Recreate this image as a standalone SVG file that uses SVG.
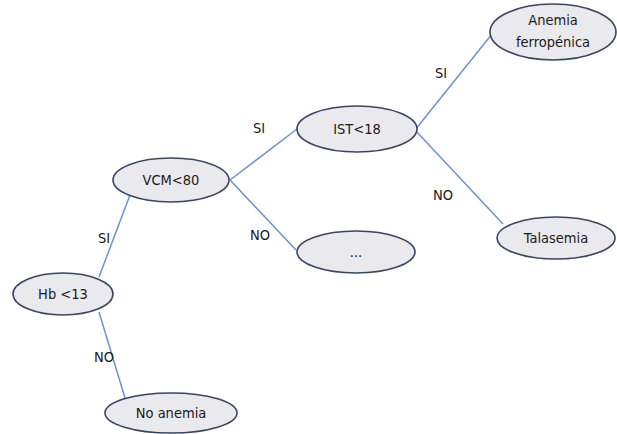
<svg xmlns="http://www.w3.org/2000/svg" width="617" height="434" viewBox="0 0 617 434">
  <style>
    .node ellipse { fill: #e9e9ee; stroke: #3b4560; stroke-width: 1.6; }
    .node text, .lbl { font-family: "DejaVu Sans Condensed", "Liberation Sans", sans-serif; font-stretch: condensed; font-size: 14.5px; fill: #1a1a1a; text-anchor: middle; }
    .edge { stroke: #7091cf; stroke-width: 1.5; fill: none; }
  </style>
  <rect width="617" height="434" fill="#ffffff"/>
  <g id="connectors">
    <line class="edge" x1="130" y1="195" x2="99" y2="277"/>
    <line class="edge" x1="99" y1="312" x2="125" y2="398"/>
    <line class="edge" x1="230" y1="180" x2="297" y2="129"/>
    <line class="edge" x1="230" y1="180" x2="296" y2="250"/>
    <line class="edge" x1="415" y1="130" x2="492" y2="34"/>
    <line class="edge" x1="415" y1="130" x2="503" y2="224"/>
    <text class="lbl" x="104" y="243">SI</text>
    <text class="lbl" x="104" y="362">NO</text>
    <text class="lbl" x="259" y="133">SI</text>
    <text class="lbl" x="260" y="240">NO</text>
    <text class="lbl" x="441" y="78">SI</text>
    <text class="lbl" x="443" y="200">NO</text>
  </g>
  <g id="hb" class="node">
    <ellipse cx="63" cy="294" rx="50" ry="21"/>
    <text x="63" y="299">Hb &lt;13</text>
  </g>
  <g id="noanemia" class="node">
    <ellipse cx="171" cy="413" rx="66" ry="20"/>
    <text x="171" y="418">No anemia</text>
  </g>
  <g id="vcm" class="node">
    <ellipse cx="171" cy="180" rx="58" ry="22"/>
    <text x="171" y="185">VCM&lt;80</text>
  </g>
  <g id="ist" class="node">
    <ellipse cx="357" cy="129" rx="60" ry="23"/>
    <text x="357" y="134">IST&lt;18</text>
  </g>
  <g id="other" class="node">
    <ellipse cx="356" cy="252" rx="59" ry="21"/>
    <text x="356" y="257">...</text>
  </g>
  <g id="ferropenica" class="node">
    <ellipse cx="553" cy="32" rx="63" ry="28"/>
    <text x="553" y="25">Anemia</text>
    <text x="553" y="47">ferropénica</text>
  </g>
  <g id="talasemia" class="node">
    <ellipse cx="556" cy="238" rx="59" ry="21"/>
    <text x="556" y="243">Talasemia</text>
  </g>
</svg>
